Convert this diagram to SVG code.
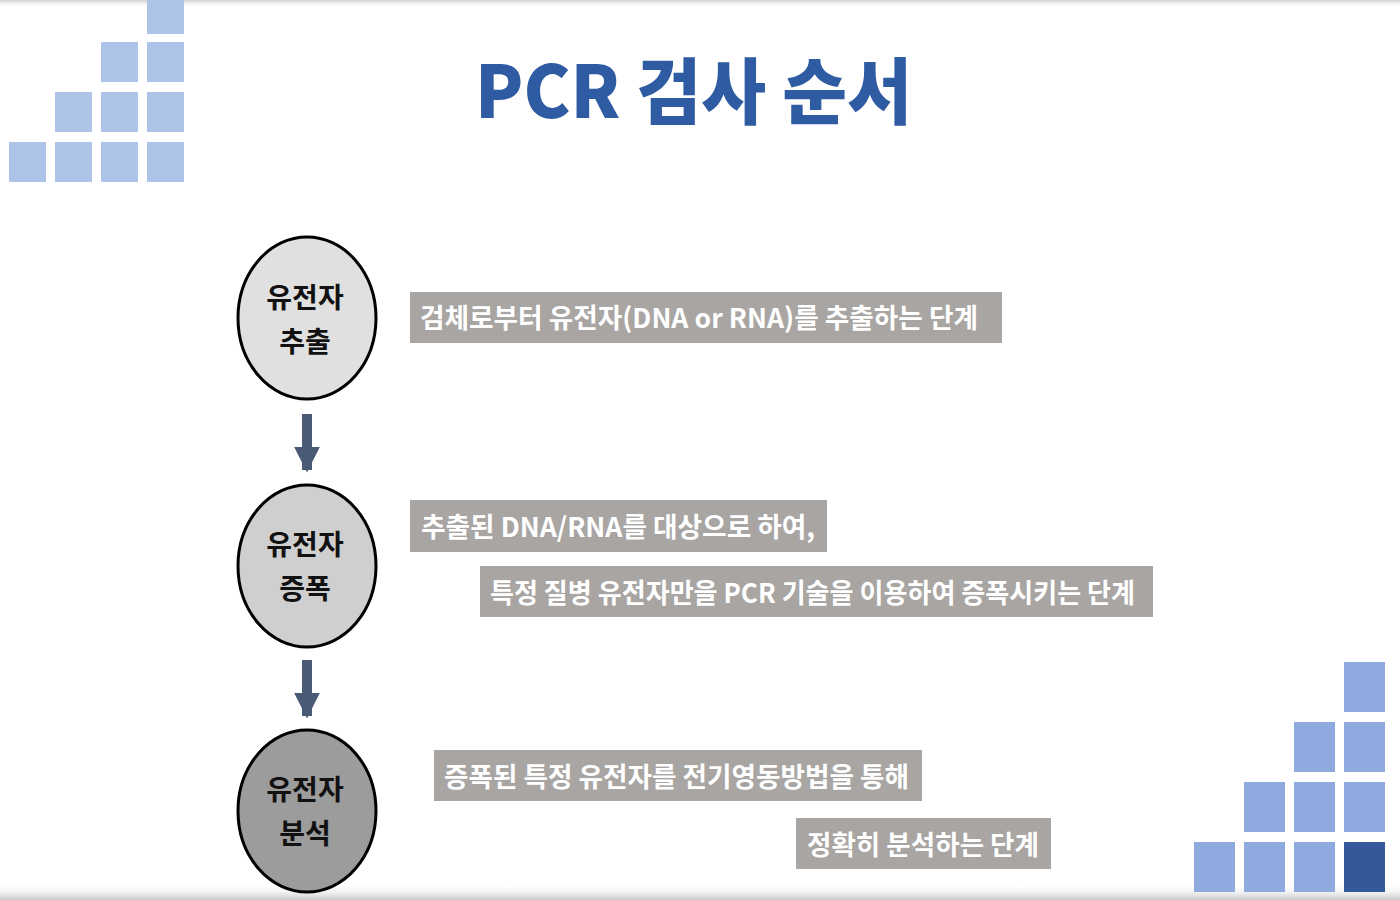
<svg xmlns="http://www.w3.org/2000/svg" width="1400" height="900" viewBox="0 0 1400 900">
<defs>
<linearGradient id="topShade" x1="0" y1="0" x2="0" y2="1"><stop offset="0" stop-color="#d0d0d0"/><stop offset="1" stop-color="#ffffff" stop-opacity="0"/></linearGradient>
<linearGradient id="botShade" x1="0" y1="0" x2="0" y2="1"><stop offset="0" stop-color="#ffffff" stop-opacity="0"/><stop offset="1" stop-color="#c8c8c8"/></linearGradient>
<marker id="ah" viewBox="0 0 10 10" refX="9" refY="5" markerWidth="2.6" markerHeight="2.6" orient="auto"><path d="M0,0 L10,5 L0,10 Z" fill="#4a5a75"/></marker>
<style>
.sqL{fill:#aec3e8}
.sqR{fill:#8eaadf}
.node{stroke:#000;stroke-width:3}
.nl{font-family:"Noto Sans CJK KR","Noto Sans",sans-serif;font-weight:700;font-size:28px;fill:#111;text-anchor:middle}
.box{fill:#a8a5a3}
.bt{font-family:"Noto Sans CJK KR","Noto Sans",sans-serif;font-weight:700;font-size:27px;fill:#fff}
.conn{stroke:#4a5a75;stroke-width:10;fill:none}
</style>
</defs>
<rect x="0" y="0" width="1400" height="900" fill="#fff"/>
<rect x="0" y="0" width="1400" height="8" fill="url(#topShade)"/>
<rect x="0" y="884" width="1400" height="16" fill="url(#botShade)"/>
<g id="decor-topleft">
<rect class="sqL" x="147" y="0" width="37" height="34"/>
<rect class="sqL" x="101" y="42" width="37" height="40"/>
<rect class="sqL" x="147" y="42" width="37" height="40"/>
<rect class="sqL" x="55" y="92" width="37" height="40"/>
<rect class="sqL" x="101" y="92" width="37" height="40"/>
<rect class="sqL" x="147" y="92" width="37" height="40"/>
<rect class="sqL" x="9" y="142" width="37" height="40"/>
<rect class="sqL" x="55" y="142" width="37" height="40"/>
<rect class="sqL" x="101" y="142" width="37" height="40"/>
<rect class="sqL" x="147" y="142" width="37" height="40"/>
</g>
<g id="decor-bottomright">
<rect class="sqR" x="1344" y="662" width="41" height="50"/>
<rect class="sqR" x="1294" y="722" width="41" height="50"/>
<rect class="sqR" x="1344" y="722" width="41" height="50"/>
<rect class="sqR" x="1244" y="782" width="41" height="50"/>
<rect class="sqR" x="1294" y="782" width="41" height="50"/>
<rect class="sqR" x="1344" y="782" width="41" height="50"/>
<rect class="sqR" x="1194" y="842" width="41" height="50"/>
<rect class="sqR" x="1244" y="842" width="41" height="50"/>
<rect class="sqR" x="1294" y="842" width="41" height="50"/>
<rect x="1344" y="842" width="41" height="50" fill="#34599a"/>
</g>
<g id="title">
<text x="475" y="118" font-family="'Noto Sans CJK KR','Noto Sans',sans-serif" font-weight="900" font-size="72" fill="#2f5ba3" textLength="437" lengthAdjust="spacingAndGlyphs">PCR 검사 순서</text>
</g>
<g id="connectors">
<line class="conn" x1="307" y1="414" x2="307" y2="470" marker-end="url(#ah)"/>
<line class="conn" x1="307" y1="660" x2="307" y2="716" marker-end="url(#ah)"/>
</g>
<g id="node-extract">
<ellipse class="node" cx="307" cy="318" rx="69" ry="81" fill="#e0e0e0"/>
<text class="nl" x="305" y="308">유전자</text>
<text class="nl" x="305" y="352">추출</text>
</g>
<g id="node-amplify">
<ellipse class="node" cx="307" cy="566" rx="69" ry="81" fill="#cfcfcf"/>
<text class="nl" x="305" y="555">유전자</text>
<text class="nl" x="305" y="599">증폭</text>
</g>
<g id="node-analyze">
<ellipse class="node" cx="307" cy="811" rx="69" ry="81" fill="#9c9c9c"/>
<text class="nl" x="305" y="800">유전자</text>
<text class="nl" x="305" y="844">분석</text>
</g>
<g id="desc-extract">
<rect class="box" x="410" y="292" width="592" height="51"/>
<text class="bt" x="420" y="328" textLength="558" lengthAdjust="spacingAndGlyphs">검체로부터 유전자(DNA or RNA)를 추출하는 단계</text>
</g>
<g id="desc-amplify">
<rect class="box" x="410" y="500" width="417" height="52"/>
<text class="bt" x="421" y="537" textLength="394" lengthAdjust="spacingAndGlyphs">추출된 DNA/RNA를 대상으로 하여,</text>
<rect class="box" x="480" y="566" width="673" height="51"/>
<text class="bt" x="490" y="603" textLength="645" lengthAdjust="spacingAndGlyphs">특정 질병 유전자만을 PCR 기술을 이용하여 증폭시키는 단계</text>
</g>
<g id="desc-analyze">
<rect class="box" x="434" y="750" width="488" height="51"/>
<text class="bt" x="444" y="787" textLength="465" lengthAdjust="spacingAndGlyphs">증폭된 특정 유전자를 전기영동방법을 통해</text>
<rect class="box" x="796" y="818" width="255" height="51"/>
<text class="bt" x="807" y="855" textLength="232" lengthAdjust="spacingAndGlyphs">정확히 분석하는 단계</text>
</g>
</svg>
